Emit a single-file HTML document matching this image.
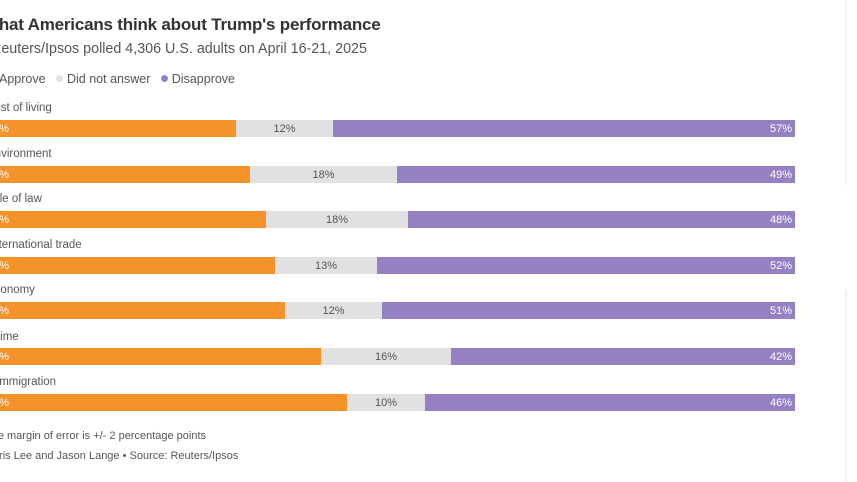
<!DOCTYPE html>
<html><head><meta charset="utf-8"><style>
body{margin:0;width:857px;height:482px;overflow:hidden;background:#fff;position:relative;font-family:"Liberation Sans",sans-serif;color:#404040}
div{position:absolute;white-space:nowrap}
.t{left:-17px;top:15px;font-size:17px;font-weight:bold;color:#333;letter-spacing:-0.2px}
.s{left:-9px;top:41px;font-size:14.3px;color:#555}
.lg{left:-12px;top:72px;font-size:12.5px;color:#555}
.dot{display:inline-block;width:7px;height:7px;border-radius:50%;margin-right:4px;vertical-align:1px}
.c{font-size:11.5px;color:#555}
.b{height:17px;font-size:11px;line-height:18px}
.o{background:#f5922a;color:#fff}
.g{background:#e1e1e1;color:#555;text-align:center}
.p{background:#9580c2;color:#fff;text-align:right;padding-right:3px;box-sizing:border-box}
.f{font-size:11px;color:#555}
</style></head><body>
<div class="t">What Americans think about Trump's performance</div>
<div class="s">Reuters/Ipsos polled 4,306 U.S. adults on April 16-21, 2025</div>
<div class="lg"><span class="dot" style="background:#f5922a"></span>Approve &nbsp;&nbsp;<span class="dot" style="background:#e1e1e1"></span>Did not answer &nbsp;&nbsp;<span class="dot" style="background:#9580c2"></span>Disapprove</div>

<div class="c" style="left:-14px;top:102px">Cost of living</div>
<div class="b o" style="left:-20px;top:120px;width:256px;padding-left:7px;box-sizing:border-box">31%</div>
<div class="b g" style="left:236px;top:120px;width:97px">12%</div>
<div class="b p" style="left:333px;top:120px;width:462px">57%</div>

<div class="c" style="left:-13px;top:148px">Environment</div>
<div class="b o" style="left:-20px;top:166px;width:270px;padding-left:7px;box-sizing:border-box">33%</div>
<div class="b g" style="left:250px;top:166px;width:147px">18%</div>
<div class="b p" style="left:397px;top:166px;width:398px">49%</div>

<div class="c" style="left:-15px;top:193px">Rule of law</div>
<div class="b o" style="left:-20px;top:211px;width:286px;padding-left:7px;box-sizing:border-box">35%</div>
<div class="b g" style="left:266px;top:211px;width:142px">18%</div>
<div class="b p" style="left:408px;top:211px;width:387px">48%</div>

<div class="c" style="left:-11px;top:239px">International trade</div>
<div class="b o" style="left:-20px;top:257px;width:295px;padding-left:7px;box-sizing:border-box">36%</div>
<div class="b g" style="left:275px;top:257px;width:102px">13%</div>
<div class="b p" style="left:377px;top:257px;width:418px">52%</div>

<div class="c" style="left:-13px;top:284px">Economy</div>
<div class="b o" style="left:-20px;top:302px;width:305px;padding-left:7px;box-sizing:border-box">37%</div>
<div class="b g" style="left:285px;top:302px;width:97px">12%</div>
<div class="b p" style="left:382px;top:302px;width:413px">51%</div>

<div class="c" style="left:-12px;top:331px">Crime</div>
<div class="b o" style="left:-20px;top:348px;width:341px;padding-left:7px;box-sizing:border-box">42%</div>
<div class="b g" style="left:321px;top:348px;width:130px">16%</div>
<div class="b p" style="left:451px;top:348px;width:344px">42%</div>

<div class="c" style="left:-4px;top:376px">Immigration</div>
<div class="b o" style="left:-20px;top:394px;width:367px;padding-left:7px;box-sizing:border-box">46%</div>
<div class="b g" style="left:347px;top:394px;width:78px">10%</div>
<div class="b p" style="left:425px;top:394px;width:370px">46%</div>

<div class="f" style="left:-15px;top:430px">The margin of error is +/- 2 percentage points</div>
<div class="f" style="left:-15px;top:450px">Chris Lee and Jason Lange • Source: Reuters/Ipsos</div>

<div style="left:845px;top:0;width:2px;height:185px;background:#f0f0f0"></div>
<div style="left:845px;top:290px;width:2px;height:192px;background:#f0f0f0"></div>
</body></html>
